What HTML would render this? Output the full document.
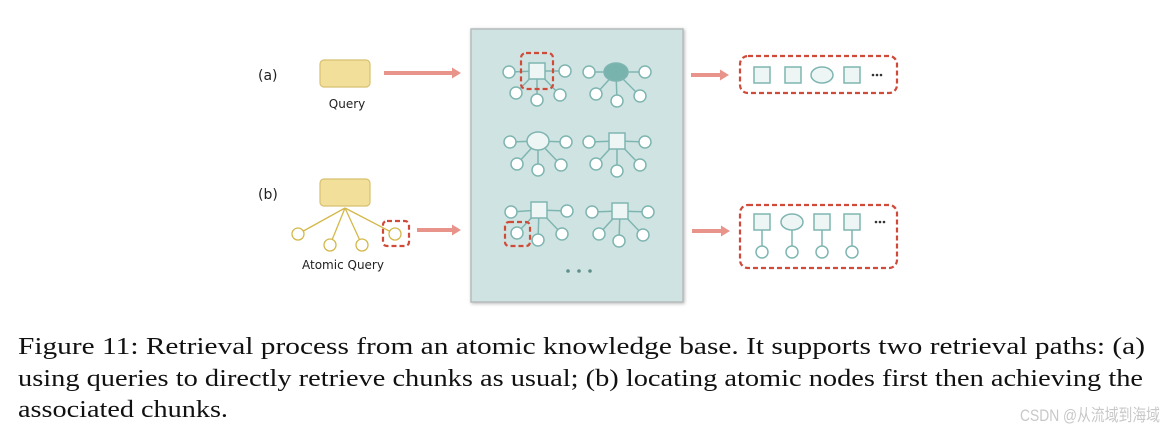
<!DOCTYPE html>
<html><head><meta charset="utf-8"><style>
html,body{margin:0;padding:0;background:#fff;width:1165px;height:435px;overflow:hidden}
</style></head><body>
<svg width="1165" height="435" viewBox="0 0 1165 435" xmlns="http://www.w3.org/2000/svg">
<defs>
<filter id="sh" x="-5%" y="-5%" width="110%" height="110%"><feDropShadow dx="1" dy="1" stdDeviation="1.5" flood-color="#888" flood-opacity="0.6"/></filter>
</defs>
<!-- panel -->
<rect x="471" y="29" width="212" height="273" fill="#cfe4e2" stroke="#b5bcbc" stroke-width="1.5" filter="url(#sh)"/>
<g stroke="#7fb5b1" stroke-width="1.5" fill="#fff">
<!-- G1 -->
<g><line x1="537" y1="71" x2="509" y2="72"/><line x1="537" y1="71" x2="565" y2="71"/><line x1="537" y1="71" x2="516" y2="93"/><line x1="537" y1="71" x2="537" y2="100"/><line x1="537" y1="71" x2="560" y2="95"/>
<rect x="529" y="63" width="16" height="16" fill="#eef6f5"/><circle cx="509" cy="72" r="6"/><circle cx="565" cy="71" r="6"/><circle cx="516" cy="93" r="6"/><circle cx="537" cy="100" r="6"/><circle cx="560" cy="95" r="6"/></g>
<!-- G2 -->
<g><line x1="616" y1="72" x2="589" y2="72"/><line x1="616" y1="72" x2="645" y2="72"/><line x1="616" y1="72" x2="596" y2="94"/><line x1="616" y1="72" x2="617" y2="101"/><line x1="616" y1="72" x2="640" y2="96"/>
<ellipse cx="616" cy="72" rx="12" ry="9" fill="#78b3ae"/><circle cx="589" cy="72" r="6"/><circle cx="645" cy="72" r="6"/><circle cx="596" cy="94" r="6"/><circle cx="617" cy="101" r="6"/><circle cx="640" cy="96" r="6"/></g>
<!-- G3 -->
<g><line x1="538" y1="141" x2="510" y2="142"/><line x1="538" y1="141" x2="566" y2="142"/><line x1="538" y1="141" x2="517" y2="164"/><line x1="538" y1="141" x2="538" y2="170"/><line x1="538" y1="141" x2="561" y2="165"/>
<ellipse cx="538" cy="141" rx="11" ry="9" fill="#eef6f5"/><circle cx="510" cy="142" r="6"/><circle cx="566" cy="142" r="6"/><circle cx="517" cy="164" r="6"/><circle cx="538" cy="170" r="6"/><circle cx="561" cy="165" r="6"/></g>
<!-- G4 -->
<g><line x1="617" y1="141" x2="589" y2="142"/><line x1="617" y1="141" x2="645" y2="142"/><line x1="617" y1="141" x2="596" y2="164"/><line x1="617" y1="141" x2="617" y2="171"/><line x1="617" y1="141" x2="640" y2="165"/>
<rect x="609" y="133" width="16" height="16" fill="#eef6f5"/><circle cx="589" cy="142" r="6"/><circle cx="645" cy="142" r="6"/><circle cx="596" cy="164" r="6"/><circle cx="617" cy="171" r="6"/><circle cx="640" cy="165" r="6"/></g>
<!-- G5 -->
<g><line x1="539" y1="210" x2="511" y2="212"/><line x1="539" y1="210" x2="567" y2="211"/><line x1="539" y1="210" x2="517" y2="233"/><line x1="539" y1="210" x2="538" y2="240"/><line x1="539" y1="210" x2="562" y2="234"/>
<rect x="531" y="202" width="16" height="16" fill="#eef6f5"/><circle cx="511" cy="212" r="6"/><circle cx="567" cy="211" r="6"/><circle cx="517" cy="233" r="6"/><circle cx="538" cy="240" r="6"/><circle cx="562" cy="234" r="6"/></g>
<!-- G6 -->
<g><line x1="620" y1="211" x2="592" y2="212"/><line x1="620" y1="211" x2="648" y2="212"/><line x1="620" y1="211" x2="599" y2="234"/><line x1="620" y1="211" x2="619" y2="241"/><line x1="620" y1="211" x2="643" y2="235"/>
<rect x="612" y="203" width="16" height="16" fill="#eef6f5"/><circle cx="592" cy="212" r="6"/><circle cx="648" cy="212" r="6"/><circle cx="599" cy="234" r="6"/><circle cx="619" cy="241" r="6"/><circle cx="643" cy="235" r="6"/></g>
</g>
<g fill="#5f8f8b"><circle cx="568" cy="271" r="1.8"/><circle cx="579" cy="271" r="1.8"/><circle cx="590" cy="271" r="1.8"/></g>
<!-- dashed highlight boxes -->
<g fill="none" stroke="#d04a3a" stroke-width="2.2" stroke-dasharray="5,3">
<rect x="521" y="53" width="32" height="36" rx="5"/>
<rect x="505" y="222" width="25" height="24" rx="4"/>
<rect x="383" y="221" width="26" height="25" rx="4"/>
<rect x="740" y="56" width="157" height="37" rx="8"/>
<rect x="740" y="205" width="157" height="63" rx="8"/>
</g>
<!-- left -->
<g font-family="'DejaVu Sans','Liberation Sans',sans-serif" fill="#222">
<text x="258" y="80" font-size="14">(a)</text>
<text x="258" y="199" font-size="14">(b)</text>
<text x="347" y="108" font-size="12" text-anchor="middle">Query</text>
<text x="343" y="269" font-size="12" text-anchor="middle">Atomic Query</text>
</g>
<rect x="320" y="60" width="50" height="27" rx="4" fill="#f2e09a" stroke="#d8c070" stroke-width="1.2"/>
<rect x="320" y="179" width="50" height="27" rx="4" fill="#f2e09a" stroke="#d8c070" stroke-width="1.2"/>
<g stroke="#d4b84a" stroke-width="1.3" fill="#fff">
<line x1="345" y1="208" x2="298" y2="234"/><line x1="345" y1="208" x2="330" y2="245"/><line x1="345" y1="208" x2="362" y2="245"/><line x1="345" y1="208" x2="395" y2="234"/>
<circle cx="298" cy="234" r="6"/><circle cx="330" cy="245" r="6"/><circle cx="362" cy="245" r="6"/><circle cx="395" cy="234" r="6"/>
</g>
<!-- arrows -->
<g fill="#e8948a">
<path d="M384 71 L452 71 L452 67.5 L461 73 L452 78.5 L452 75 L384 75 Z"/>
<path d="M417 228 L452 228 L452 224.5 L461 230 L452 235.5 L452 232 L417 232 Z"/>
<path d="M691 73 L720 73 L720 69.5 L729 75 L720 80.5 L720 77 L691 77 Z"/>
<path d="M692 229 L721 229 L721 225.5 L730 231 L721 236.5 L721 233 L692 233 Z"/>
</g>
<!-- right results -->
<g stroke="#7fb5b1" stroke-width="1.5" fill="#eef6f5">
<rect x="754" y="67" width="16" height="16"/><rect x="785" y="67" width="16" height="16"/><ellipse cx="822" cy="75" rx="11" ry="8"/><rect x="844" y="67" width="16" height="16"/>
<line x1="762" y1="230" x2="762" y2="246"/><line x1="792" y1="230" x2="792" y2="246"/><line x1="822" y1="230" x2="822" y2="246"/><line x1="852" y1="230" x2="852" y2="246"/>
<rect x="754" y="214" width="16" height="16"/><ellipse cx="792" cy="222" rx="11" ry="8"/><rect x="814" y="214" width="16" height="16"/><rect x="844" y="214" width="16" height="16"/>
<circle cx="762" cy="252" r="6" fill="#fff"/><circle cx="792" cy="252" r="6" fill="#fff"/><circle cx="822" cy="252" r="6" fill="#fff"/><circle cx="852" cy="252" r="6" fill="#fff"/>
</g>
<g fill="#333"><circle cx="873" cy="75" r="1.3"/><circle cx="877" cy="75" r="1.3"/><circle cx="881" cy="75" r="1.3"/>
<circle cx="876" cy="222" r="1.3"/><circle cx="880" cy="222" r="1.3"/><circle cx="884" cy="222" r="1.3"/></g>
<!-- caption -->
<g font-family="'Liberation Serif',serif" font-size="24" fill="#111">
<text x="18" y="354" textLength="1127" lengthAdjust="spacingAndGlyphs">Figure 11: Retrieval process from an atomic knowledge base. It supports two retrieval paths: (a)</text>
<text x="18" y="386" textLength="1125" lengthAdjust="spacingAndGlyphs">using queries to directly retrieve chunks as usual; (b) locating atomic nodes first then achieving the</text>
<text x="18" y="417" textLength="210" lengthAdjust="spacingAndGlyphs">associated chunks.</text>
</g>
<text x="1160" y="421" text-anchor="end" font-family="'Liberation Sans','Noto Sans CJK SC',sans-serif" font-size="17" fill="#c8c8c8" textLength="140" lengthAdjust="spacingAndGlyphs">CSDN @从流域到海域</text>
</svg>
</body></html>
